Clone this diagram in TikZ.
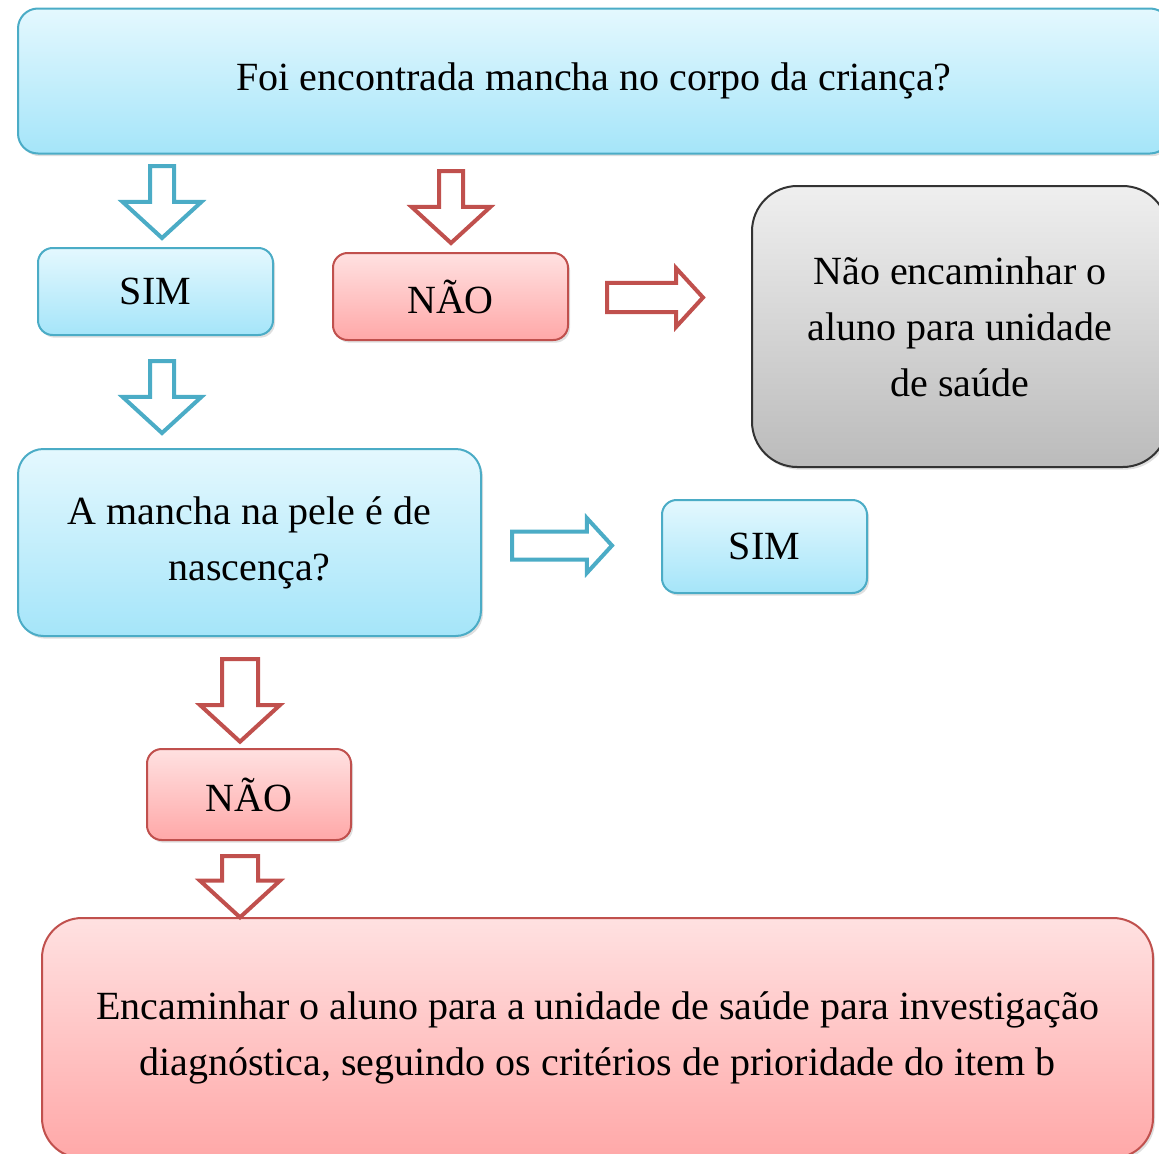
\documentclass[tikz,border=0pt]{standalone}
\usepackage{fontspec}
\setmainfont{Liberation Serif}
\usetikzlibrary{shapes.arrows,shadows}

\definecolor{blueline}{HTML}{4BACC6}
\definecolor{bluetop}{HTML}{E4F8FE}
\definecolor{bluebot}{HTML}{A5E5F9}
\definecolor{redline}{HTML}{C0504D}
\definecolor{redtop}{HTML}{FFE1E1}
\definecolor{redbot}{HTML}{FFA8A8}
\definecolor{graytop}{HTML}{EFEFEF}
\definecolor{graybot}{HTML}{BBBBBB}

\begin{document}
\begin{tikzpicture}[x=0.75pt,y=-0.75pt]
    %
    % `box' is the common look of all text boxes.
    % `bluebox', `redbox' and `graybox' only change the colours.
    % `blockarrow' is the hollow arrow between the boxes, placed by its tail.
    \tikzstyle{box} = [rectangle,rounded corners=11pt,line width=1.5pt,align=center,font=\fontsize{30}{42}\selectfont,drop shadow={shadow xshift=1.5pt,shadow yshift=-2pt,opacity=0.25}]
    \tikzstyle{bluebox} = [box,draw=blueline,top color=bluetop,bottom color=bluebot]
    \tikzstyle{redbox} = [box,draw=redline,top color=redtop,bottom color=redbot]
    \tikzstyle{graybox} = [box,draw=black!80,top color=graytop,bottom color=graybot]
    \tikzstyle{blockarrow} = [single arrow,anchor=tail,single arrow head indent=0pt,single arrow tip angle=95,inner xsep=0pt,line width=3pt,fill=white]
    \tikzstyle{bluearrow} = [blockarrow,draw=blueline]
    \tikzstyle{redarrow} = [blockarrow,draw=redline]
    %
    \useasboundingbox (0,0) rectangle (1159,1153);
    \clip (0,0) rectangle (1159,1153);
    %
    % Question 1
    \node[bluebox,rounded corners=15pt,minimum width=864pt,minimum height=108.75pt] (quest1) at (594,81) {Foi encontrada mancha no corpo da criança?};
    %
    % Answers to question 1
    \node[bluebox,minimum width=176.25pt,minimum height=65.25pt] (sim1) at (155.5,291.5) {SIM};
    \node[redbox,minimum width=176.25pt,minimum height=65.25pt] (nao1) at (450.5,296.5) {NÃO};
    \node[graybox,rounded corners=34pt,minimum width=312pt,minimum height=210.75pt] (stop) at (960,326.5) {Não encaminhar o\\aluno para unidade\\de saúde};
    %
    % Question 2
    \node[bluebox,rounded corners=19pt,minimum width=347.25pt,minimum height=140.25pt] (quest2) at (249.5,542.5) {A mancha na pele é de\\nascença?};
    \node[bluebox,minimum width=153.75pt,minimum height=69.75pt] (sim2) at (764.5,546.5) {SIM};
    \node[redbox,minimum width=153pt,minimum height=68.25pt] (nao2) at (249,794.5) {NÃO};
    %
    % Referral
    \node[redbox,rounded corners=30pt,minimum width=833.25pt,minimum height=180pt] (refer) at (597.5,1038) {Encaminhar o aluno para a unidade de saúde para investigação\\diagnóstica, seguindo os critérios de prioridade do item b};
    %
    % Arrows
    \node[bluearrow,rotate=-90,minimum height=54pt,inner ysep=7.5pt,single arrow head extend=20.5pt] (arr1) at (162,164) {};
    \node[redarrow,rotate=-90,minimum height=54pt,inner ysep=7.5pt,single arrow head extend=20.5pt] (arr2) at (451,169) {};
    \node[redarrow,minimum height=72pt,inner ysep=9.5pt,single arrow head extend=11pt] (arr3) at (605,297.5) {};
    \node[bluearrow,rotate=-90,minimum height=54pt,inner ysep=7.5pt,single arrow head extend=20.5pt] (arr4) at (162,359) {};
    \node[bluearrow,minimum height=75pt,inner ysep=9pt,single arrow head extend=10pt] (arr5) at (510,545.5) {};
    \node[redarrow,rotate=-90,minimum height=62pt,inner ysep=12pt,single arrow head extend=16.5pt] (arr6) at (240,657) {};
    \node[redarrow,rotate=-90,minimum height=46pt,inner ysep=12pt,single arrow head extend=16.5pt] (arr7) at (240,854) {};
    %
\end{tikzpicture}
\end{document}
